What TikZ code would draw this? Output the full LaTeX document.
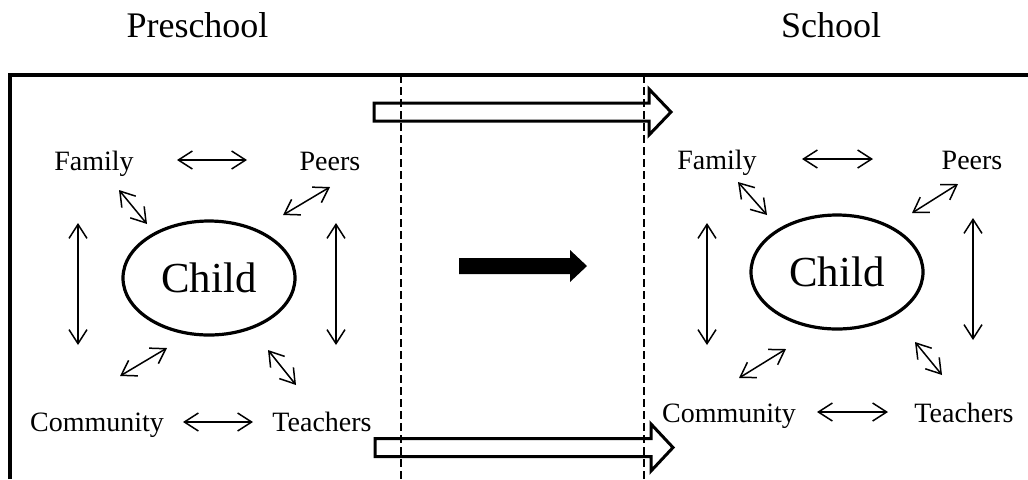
\documentclass[tikz,border=0pt]{standalone}
\usepackage{fontspec}
\setmainfont{Liberation Serif}
\usetikzlibrary{calc,arrows.meta,shapes.geometric}

\begin{document}
\begin{tikzpicture}[x=0.5pt, y=-0.5pt,
    ttl/.style={inner sep=0pt, anchor=base, font=\fontsize{18}{22}\selectfont},
    lbl/.style={inner sep=0pt, anchor=base, font=\fontsize{14}{17}\selectfont},
    kid/.style={ellipse, draw=black, line width=1.6pt, minimum width=86pt, minimum height=57pt, inner sep=0pt, font=\fontsize{21.4}{26}\selectfont},
    rel/.style={line width=0.75pt, {Straight Barb[length=7pt,width=9pt]}-{Straight Barb[length=7pt,width=9pt]}},
    sep/.style={dash pattern=on 4pt off 2pt, line width=0.8pt},
    move/.style={line width=1.5pt, line join=miter}]
    \useasboundingbox (0,0) rectangle (1028,479);

    % titles
    \node[ttl] (pre) at (197.5,37) {Preschool};
    \node[ttl] (sch) at (831,37) {School};

    % frame
    \draw[line width=2pt, line join=miter] (10,479) -- (10,75) -- (1028,75);

    % transition arrows
    \draw[move] (374,103) -- (649,103) -- (649,89) -- (671,112) -- (649,135) -- (649,121) -- (374,121) -- cycle;
    \draw[move] (375,438.5) -- (651,438.5) -- (651,424) -- (673,447.5) -- (651,471) -- (651,456.5) -- (375,456.5) -- cycle;
    \fill (459,258) -- (570,258) -- (570,250) -- (587,266) -- (570,282) -- (570,274) -- (459,274) -- cycle;

    \draw[sep] (401,75) -- (401,479);
    \draw[sep] (644,75) -- (644,479);

    % preschool
    \node[kid] (childL) at (209,278) {Child};
    \node[lbl] (famL) at (94,170) {Family};
    \node[lbl] (peerL) at (330,170) {Peers};
    \node[lbl] (comL) at (97,431) {Community};
    \node[lbl] (teachL) at (322,431) {Teachers};

    \draw[rel] ($(famL.base)+(83,-10)$) -- ($(peerL.base)+(-83,-10)$);
    \draw[rel] ($(comL.base)+(86,-9)$) -- ($(teachL.base)+(-69,-9)$);
    \draw[rel] ($(famL.base)+(-16,53)$) -- ($(comL.base)+(-19,-86)$);
    \draw[rel] ($(peerL.base)+(6,53)$) -- ($(teachL.base)+(14,-86)$);
    \draw[rel] ($(famL.base)+(25,20)$) -- ($(childL)+(-62,-54)$);
    \draw[rel] ($(peerL.base)+(0,17)$) -- ($(childL)+(74,-63)$);
    \draw[rel] ($(comL.base)+(23,-55)$) -- ($(childL)+(-42,70)$);
    \draw[rel] ($(teachL.base)+(-26,-46)$) -- ($(childL)+(59,72)$);

    % school
    \node[kid] (childR) at (837,272) {Child};
    \node[lbl] (famR) at (717,169) {Family};
    \node[lbl] (peerR) at (972,169) {Peers};
    \node[lbl] (comR) at (729,422) {Community};
    \node[lbl] (teachR) at (964,422) {Teachers};

    \draw[rel] ($(famR.base)+(85,-10)$) -- ($(peerR.base)+(-99,-10)$);
    \draw[rel] ($(comR.base)+(88,-10)$) -- ($(teachR.base)+(-76,-10)$);
    \draw[rel] ($(famR.base)+(-10,54)$) -- ($(comR.base)+(-22,-77)$);
    \draw[rel] ($(peerR.base)+(1,49)$) -- ($(teachR.base)+(9,-82)$);
    \draw[rel] ($(famR.base)+(21,13)$) -- ($(childR)+(-70,-57)$);
    \draw[rel] ($(peerR.base)+(-14,15)$) -- ($(childR)+(75,-59)$);
    \draw[rel] ($(comR.base)+(10,-44)$) -- ($(childR)+(-51,77)$);
    \draw[rel] ($(teachR.base)+(-22,-47)$) -- ($(childR)+(78,70)$);
\end{tikzpicture}
\end{document}
